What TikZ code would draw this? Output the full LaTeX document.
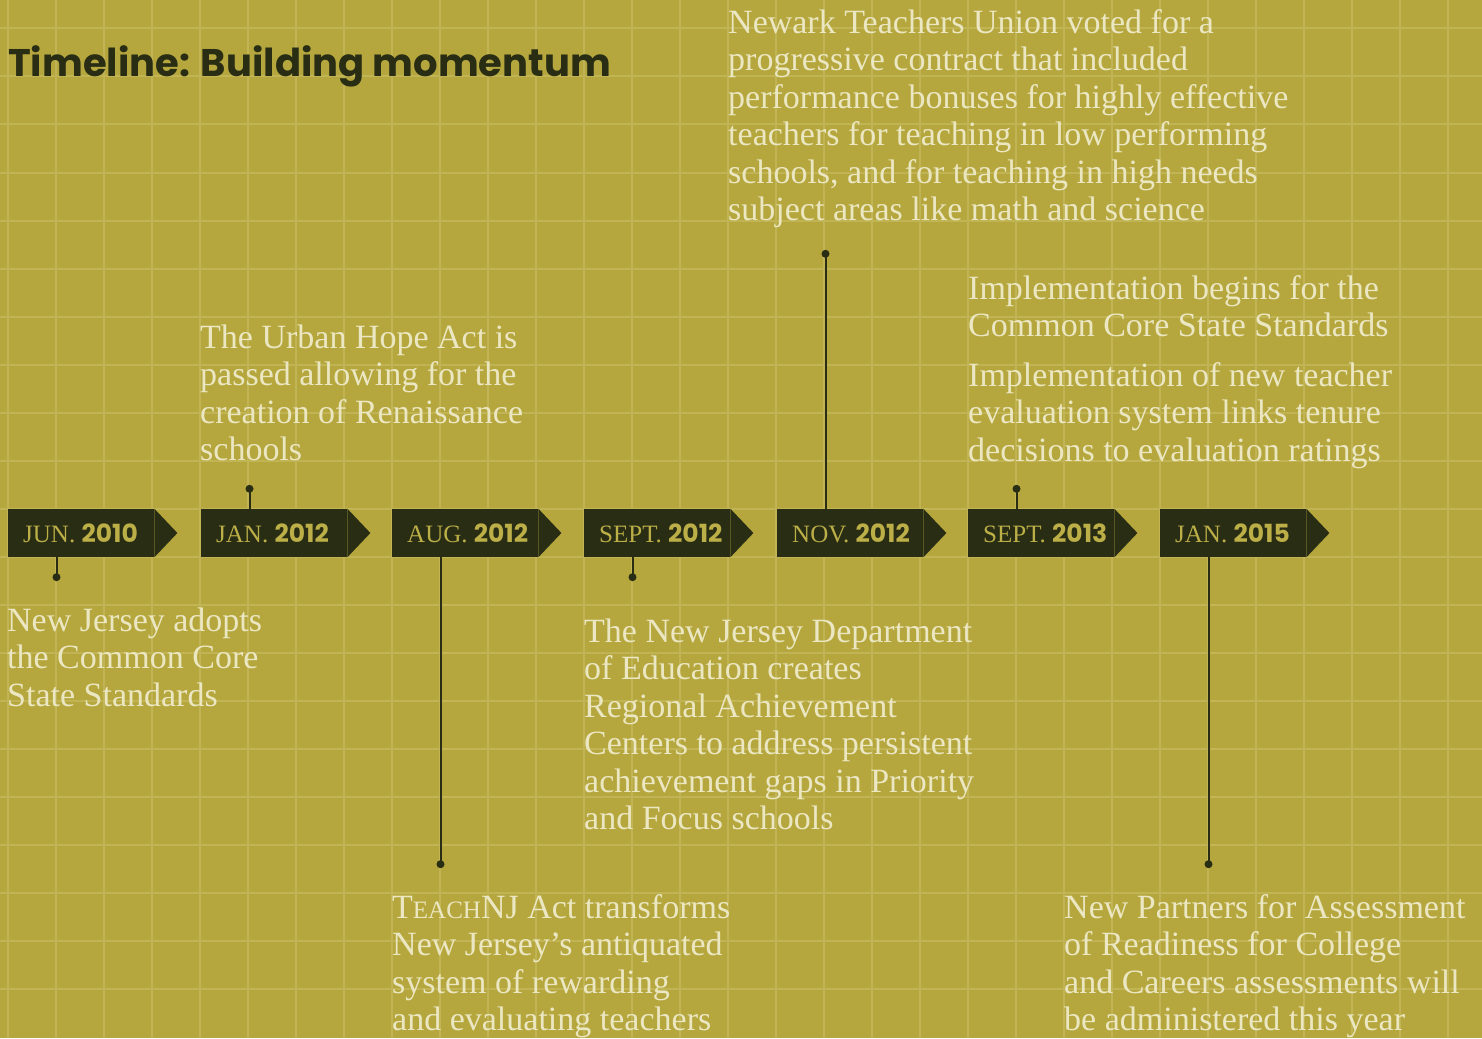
\documentclass[tikz,border=0pt]{standalone}
\usepackage{fontspec}
\setmainfont{Liberation Serif}
\newfontfamily\titlefont{Poppins}
\usetikzlibrary{calc, math}

\definecolor{olivebg}{HTML}{B5A73D}
\definecolor{olivegrid}{HTML}{C1B454}
\definecolor{darkolive}{HTML}{282D14}
\definecolor{labelolive}{HTML}{BCAF47}
\definecolor{cream}{HTML}{ECE7C3}

\tikzset{
    datebox/.style={fill=darkolive, text=labelolive, anchor=west, minimum height=48pt,
        inner xsep=15pt, inner ysep=0pt, font=\fontsize{25}{25}\selectfont},
    eventtext/.style={text=cream, anchor=base west, inner sep=0pt, align=left,
        font=\fontsize{34}{37.5}\selectfont},
    stem/.style={draw=darkolive, line width=2pt},
}
\newcommand{\yr}[1]{{\titlefont\bfseries #1}}

\begin{document}
\begin{tikzpicture}[x=1pt, y=-1pt]
    \tikzmath{%
        \boxy=533;
        \stemx=48.5;
        \lh=37.5; % line height of the event texts
    }
    % background and grid
    \fill [olivebg] (0, 0) rectangle (1482, 1038);
    \useasboundingbox (0, 0) rectangle (1482, 1038);
    \foreach \i in {0,...,30}
        \draw [olivegrid, line width=2pt] (7.5+48*\i, 0) -- ++(0, 1038);
    \foreach \j in {0,...,21}
        \draw [olivegrid, line width=2pt] (0, 28.5+48*\j-48) -- ++(1482, 0);

    % title
    \node [anchor=base west, inner sep=0pt, text=darkolive, font=\titlefont\bfseries\fontsize{38.5}{38.5}\selectfont] (title) at (8, 77) {Timeline: Building momentum};

    % date boxes
    \foreach \name/\mon/\yy/\x in {jun10/JUN./2010/8, jan12/JAN./2012/201, aug12/AUG./2012/392, sep12/SEPT./2012/584, nov12/NOV./2012/777, sep13/SEPT./2013/968, jan15/JAN./2015/1160} {
        \node [datebox] (\name) at (\x, \boxy) {\makebox[116pt][l]{\mon\ \yr{\yy}}};
        \fill [darkolive] (\name.north east) -- ($(\name.east) + (23, 0)$) -- (\name.south east) -- cycle;
    }

    % stems with dots
    \foreach \name/\side/\len in {jun10/south/20, jan12/north/-20, aug12/south/307, sep12/south/20, nov12/north/-255, sep13/north/-20, jan15/south/307} {
        \coordinate (\name foot) at ($(\name.\side\space west) + (\stemx, 0)$);
        \coordinate (\name dot) at ($(\name foot) + (0, \len)$);
        \draw [stem] (\name foot) -- (\name dot);
        \fill [darkolive] (\name dot) circle (4);
    }

    % event texts (placed at the baseline of their last line)
    \node [eventtext] (jun10text) at (7, 631+2*\lh) {New Jersey adopts\\the Common Core\\State Standards};
    \node [eventtext] (jan12text) at (200, 348+3*\lh) {The Urban Hope Act is\\passed allowing for the\\creation of Renaissance\\schools};
    \node [eventtext] (aug12text) at (392, 918+3*\lh) {T{\fontsize{25}{37.5}\selectfont EACH}NJ Act transforms\\New Jersey’s antiquated\\system of rewarding\\and evaluating teachers};
    \node [eventtext] (sep12text) at (584, 642+5*\lh) {The New Jersey Department\\of Education creates\\Regional Achievement\\Centers to address persistent\\achievement gaps in Priority\\and Focus schools};
    \node [eventtext] (nov12text) at (728, 33+5*\lh) {Newark Teachers Union voted for a\\progressive contract that included\\performance bonuses for highly effective\\teachers for teaching in low performing\\schools, and for teaching in high needs\\subject areas like math and science};
    \node [eventtext] (sep13texta) at (968, 299+\lh) {Implementation begins for the\\Common Core State Standards};
    \node [eventtext] (sep13textb) at (968, 386+2*\lh) {Implementation of new teacher\\evaluation system links tenure\\decisions to evaluation ratings};
    \node [eventtext] (jan15text) at (1064, 918+3*\lh) {New Partners for Assessment\\of Readiness for College\\and Careers assessments will\\be administered this year};
\end{tikzpicture}
\end{document}
